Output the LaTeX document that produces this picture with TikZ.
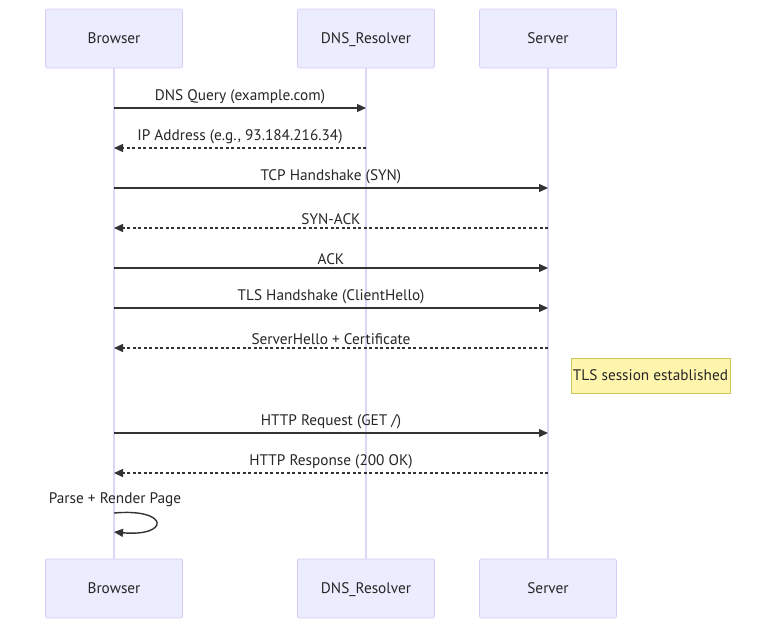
\documentclass[tikz,border=0pt]{standalone}
\usepackage{fontspec}
\setmainfont{PT Sans}
\usetikzlibrary{arrows.meta, positioning}
\definecolor{actorfill}{HTML}{ECECFF}
\definecolor{actorline}{HTML}{D6CCF5}
\definecolor{lifeline}{HTML}{DDD5F7}
\definecolor{msgline}{HTML}{333333}
\definecolor{notefill}{HTML}{FFF5AD}
\definecolor{noteline}{HTML}{C8C85A}

\begin{document}
\begin{tikzpicture}[
        x=1pt, y=-1pt,
        every node/.style={font=\fontsize{15.3}{18}\selectfont, text=black!85},
        actor/.style={rectangle, draw=actorline, fill=actorfill, rounded corners=2pt,
          minimum width=137pt, minimum height=59pt, line width=0.8pt, text depth=0pt},
        life/.style={draw=lifeline, line width=1.6pt},
        msg/.style={draw=msgline, line width=1.4pt, -{Triangle[length=9pt,width=8pt]}},
        reply/.style={msg, dash pattern=on 3pt off 2.5pt},
        lbl/.style={above=3pt, inner sep=0pt},
        note/.style={rectangle, draw=noteline, fill=notefill, line width=0.8pt,
          inner xsep=1pt, minimum width=159pt, minimum height=35pt},
      ]
      \useasboundingbox (0,0) rectangle (784,635);
      % participants
      \node[actor] (browser) at (114,38.5) {Browser};
      \node[actor] (dns) at (366,38.5) {DNS\_Resolver};
      \node[actor] (server) at (548,38.5) {Server};
      \node[actor] (browserB) at (114,588.5) {Browser};
      \node[actor] (dnsB) at (366,588.5) {DNS\_Resolver};
      \node[actor] (serverB) at (548,588.5) {Server};
      % lifelines
      \foreach \p in {browser, dns, server}
        \draw[life] (\p.south) -- (\p B.north);
      % messages
      \draw[msg] (browser |- 0,108) -- node[lbl] {DNS Query (example.com)} (dns |- 0,108);
      \draw[reply] (dns |- 0,148) -- node[lbl] {IP Address (e.g., 93.184.216.34)} (browser |- 0,148);
      \draw[msg] (browser |- 0,188) -- node[lbl] {TCP Handshake (SYN)} (server |- 0,188);
      \draw[reply] (server |- 0,228) -- node[lbl] {SYN-ACK} (browser |- 0,228);
      \draw[msg] (browser |- 0,268) -- node[lbl] {ACK} (server |- 0,268);
      \draw[msg] (browser |- 0,308) -- node[lbl] {TLS Handshake (ClientHello)} (server |- 0,308);
      \draw[reply] (server |- 0,348) -- node[lbl] {ServerHello + Certificate} (browser |- 0,348);
      \node[note] (tls) at (650.5,375.5) {TLS session established};
      \draw[msg] (browser |- 0,433) -- node[lbl] {HTTP Request (GET /)} (server |- 0,433);
      \draw[reply] (server |- 0,473) -- node[lbl] {HTTP Response (200 OK)} (browser |- 0,473);
      % self call
      \node (parse) at (115,500) {Parse + Render Page};
      \draw[msg] (browser |- 0,513) .. controls (170,508) and (170,537) .. (browser |- 0,532);
      \end{tikzpicture}
\end{document}
